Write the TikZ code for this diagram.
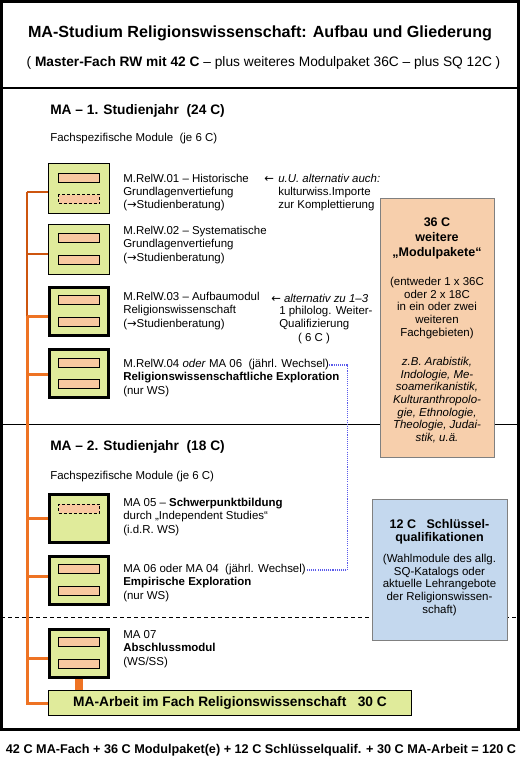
\documentclass[tikz,border=0pt]{standalone}
\usepackage{fontspec}
\setmainfont{Liberation Sans}
\newfontfamily\arrowfont{DejaVu Sans}
\usetikzlibrary{positioning}
\definecolor{modgreen}{RGB}{224,235,155}
\definecolor{slotpeach}{RGB}{248,200,160}
\definecolor{pakpeach}{RGB}{247,207,172}
\definecolor{sqblue}{RGB}{196,216,238}
\definecolor{spinedark}{RGB}{205,85,15}
\definecolor{spinelight}{RGB}{238,115,35}
\definecolor{wechselblue}{RGB}{90,90,235}
\newcommand\ra{{\arrowfont →}}
\newcommand\la{{\arrowfont ←}}
\tikzset{
  modbox/.style={rectangle,draw=black,fill=modgreen,line width=0.75pt,
    minimum width=45.75pt,minimum height=37.5pt,inner sep=0pt},
  modboxthick/.style={modbox,line width=2.25pt,minimum width=44.25pt,minimum height=36pt},
  slot/.style={rectangle,draw=black,fill=slotpeach,line width=0.75pt,
    minimum width=30.75pt,minimum height=6.75pt,inner sep=0pt},
  slotopen/.style={slot,dash pattern=on 2.25pt off 1.5pt},
  modtext/.style={anchor=west,align=left,inner sep=0pt,font=\fontsize{8.6}{10}\selectfont},
  yearhead/.style={anchor=west,inner sep=0pt,font=\fontsize{10.3}{12}\selectfont\bfseries},
  sidebox/.style={rectangle,draw=black!50,line width=0.75pt,inner sep=0pt},
  sidehead/.style={align=center,inner sep=0pt,font=\fontsize{9.4}{11.2}\selectfont\bfseries},
  sidetext/.style={align=center,inner sep=0pt,font=\fontsize{8.6}{9.6}\selectfont},
  tie/.style={draw=spinedark,line width=0.9pt},
  tiethick/.style={draw=spinelight,line width=2.25pt},
  wechsel/.style={draw=wechselblue,line width=0.8pt,dash pattern=on 0.8pt off 0.8pt}
}

\begin{document}
\begin{tikzpicture}[x=0.75pt,y=-0.75pt]
\useasboundingbox (0,0) rectangle (520,767);
% frame and section lines
\draw[line width=2pt] (1.3,1.3) rectangle (518.7,729.5);
\draw[line width=1.6pt] (1.3,88.3) -- (518.7,88.3);
\draw[line width=0.75pt] (1.3,424) -- (518.7,424);
\draw[line width=0.75pt,dash pattern=on 3pt off 2.25pt] (1.3,617) -- (518.7,617);

\node[font=\fontsize{12.1}{14}\selectfont\bfseries] (title) at (260,33)
  {MA-Studium Religionswissenschaft: Aufbau und Gliederung};
\node[font=\fontsize{10.3}{12}\selectfont] (subtitle) at (263.5,63)
  {( \textbf{Master-Fach RW mit 42 C} – plus weiteres Modulpaket 36C – plus SQ 12C )};

% 1. Studienjahr
\node[yearhead] (y1) at (50,111) {MA – 1. Studienjahr\ \ (24 C)};
\node[modtext] (y1sub) at (50,139) {Fachspezifische Module\ \ (je 6 C)};

\node[modbox] (m1) at (79,188.5) {};
\node[slot,yshift=7.9pt] (m1a) at (m1) {};
\node[slotopen,yshift=-7.9pt] (m1b) at (m1) {};
\node[modbox] (m2) at (79,249) {};
\node[slot,yshift=7.9pt] (m2a) at (m2) {};
\node[slot,yshift=-7.9pt] (m2b) at (m2) {};
\node[modboxthick] (m3) at (79,311) {};
\node[slot,yshift=7.9pt] (m3a) at (m3) {};
\node[slot,yshift=-7.9pt] (m3b) at (m3) {};
\node[modboxthick] (m4) at (79,373.5) {};
\node[slot,yshift=7.9pt] (m4a) at (m4) {};
\node[slot,yshift=-7.9pt] (m4b) at (m4) {};

\node[modtext] (t1) at (123,192.5) {M.RelW.01 – Historische\\Grundlagenvertiefung\\(\ra Studienberatung)};
\node[modtext] (t2) at (123,245) {M.RelW.02 – Systematische\\Grundlagenvertiefung\\(\ra Studienberatung)};
\node[modtext] (t3) at (123,311) {M.RelW.03 – Aufbaumodul\\Religionswissenschaft\\(\ra Studienberatung)};
\node[modtext] (t4) at (123,365) {M.RelW.04 \textit{oder} MA 06\ \ (jährl. Wechsel)};
\node[modtext] (t4b) at (123,384.5) {\textbf{Religionswissenschaftliche Exploration}\\(nur WS)};

\node[modtext] (n1arrow) at (264,179) {\la};
\node[modtext] (n1) at (278,192.5) {\textit{u.U. alternativ auch:}\\kulturwiss.Importe\\zur Komplettierung};
\node[modtext] (n3) at (271,298) {\la\ \textit{alternativ zu 1–3}};
\node[modtext] (n3b) at (279,318) {1 philolog. Weiter-\\Qualifizierung};
\node[modtext,anchor=center] (n3c) at (314,339) {( 6 C )};

% 2. Studienjahr
\node[yearhead] (y2) at (50,447) {MA – 2. Studienjahr\ \ (18 C)};
\node[modtext] (y2sub) at (50,477) {Fachspezifische Module (je 6 C)};

\node[modboxthick] (m5) at (79,518) {};
\node[slotopen,yshift=7.1pt] (m5a) at (m5) {};
\node[modboxthick] (m6) at (79,580) {};
\node[slot,yshift=7.9pt] (m6a) at (m6) {};
\node[slot,yshift=-7.9pt] (m6b) at (m6) {};
\node[modboxthick] (m7) at (79,653) {};
\node[slot,yshift=7.9pt] (m7a) at (m7) {};
\node[slot,yshift=-7.9pt] (m7b) at (m7) {};

\node[modtext] (t5) at (123,517) {MA 05 – \textbf{Schwerpunktbildung}\\durch „Independent Studies“\\(i.d.R. WS)};
\node[modtext] (t6) at (123,570) {MA 06 oder MA 04\ \ (jährl. Wechsel)};
\node[modtext] (t6b) at (123,589.5) {\textbf{Empirische Exploration}\\(nur WS)};
\node[modtext] (t7) at (123,649) {MA 07\\\textbf{Abschlussmodul}\\(WS/SS)};

\node[rectangle,draw=black,fill=modgreen,line width=0.75pt,minimum width=272pt,
  minimum height=18.75pt,font=\fontsize{10.3}{12}\selectfont\bfseries] (arbeit) at (230,703)
  {MA-Arbeit im Fach Religionswissenschaft\ \ \ 30 C};

% orange bracket
\coordinate (spinetop) at (27,192);
\coordinate (spineknee) at (27,316);
\draw[tie] (spinetop) -- (spinetop -| m1.west);
\draw[tie] (spinetop) -- (spineknee);
\draw[tie] ([yshift=-3.75pt]m2.west) -- ++(-21.5,0);
\draw[tiethick] (spineknee) -- (spineknee -| m3.west);
\foreach \m/\dy in {m4/-0.4pt,m5/0pt,m6/3pt,m7/-3.75pt}
  \draw[tiethick] ([yshift=\dy]\m.west) -- ++(-22.5,0);
\draw[tiethick] (spineknee) |- (arbeit.west);
\draw[tiethick,line width=6pt] (m7.south) -- (m7.south |- arbeit.north);

% jaehrlicher Wechsel
\draw[wechsel] (t4.east) -- ++(18,0) |- (t6.east);

% Modulpakete
\node[sidebox,fill=pakpeach,minimum width=85.5pt,minimum height=194.25pt] (pak) at (437,327.5) {};
\node[sidehead] (pakhead) at (437,238) {36 C\\weitere\\„Modulpakete“};
\node[sidetext] (pakbody) at (437,308) {(entweder 1 x 36C\\oder 2 x 18C\\in ein oder zwei\\weiteren\\Fachgebieten)};
\node[sidetext,font=\fontsize{8.6}{9.5}\selectfont\itshape] (pakex) at (437,400)
  {z.B. Arabistik,\\Indologie, Me-\\soamerikanistik,\\Kulturanthropolo-\\gie, Ethnologie,\\Theologie, Judai-\\stik, u.ä.};

% Schluesselqualifikationen
\node[sidebox,fill=sqblue,minimum width=101.25pt,minimum height=105.75pt] (sq) at (439.5,569.5) {};
\node[sidehead,font=\fontsize{9.4}{9.6}\selectfont\bfseries] (sqhead) at (439.5,532) {12 C\ \ \ Schlüssel-\\qualifikationen};
\node[sidetext,font=\fontsize{8.6}{9.4}\selectfont] (sqbody) at (439.5,585)
  {(Wahlmodule des allg.\\SQ-Katalogs oder\\aktuelle Lehrangebote\\der Religionswissen-\\schaft)};

\node[font=\fontsize{9.5}{11}\selectfont\bfseries] (sum) at (261,750)
  {42 C MA-Fach + 36 C Modulpaket(e) + 12 C Schlüsselqualif. + 30 C MA-Arbeit = 120 C};
\end{tikzpicture}
\end{document}
